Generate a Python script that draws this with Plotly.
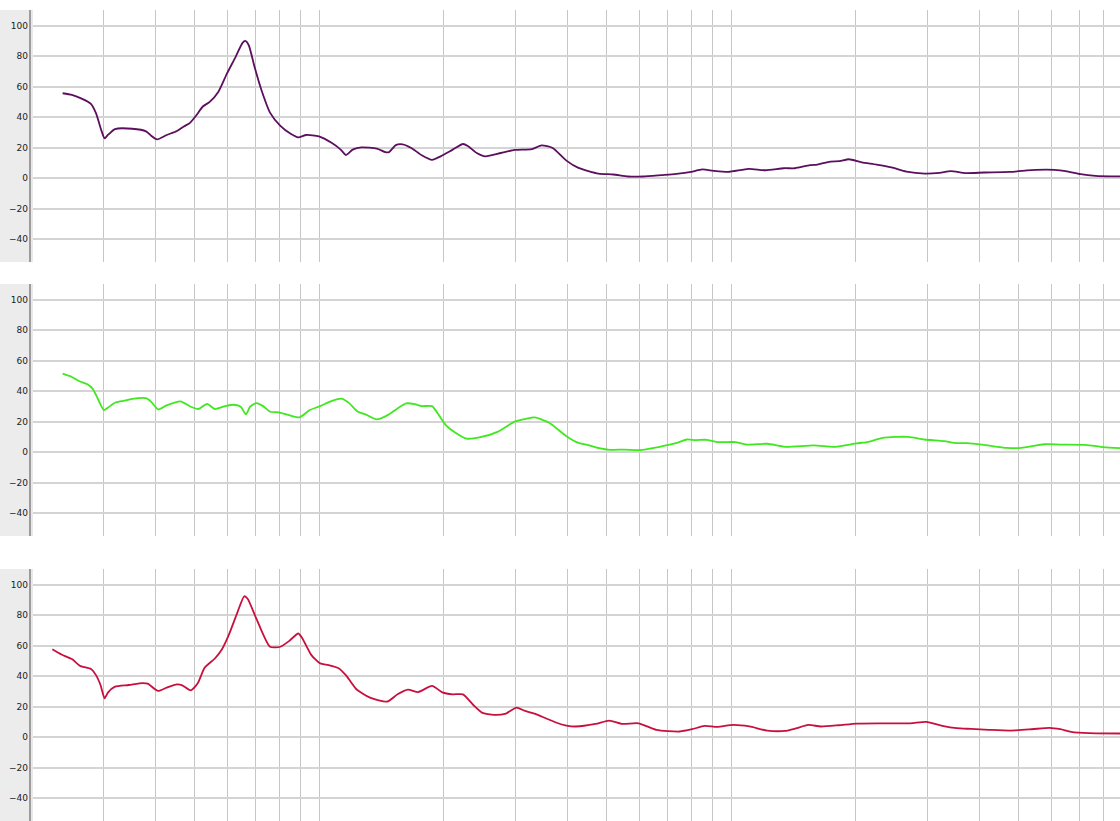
import plotly.graph_objects as go

# ---------------- data (frequency in Hz, level) ----------------
freq_a = [2.386, 2.513, 2.662, 2.795, 2.875, 2.960, 3.017, 3.077, 3.198, 3.521,
          3.803, 3.915, 4.044, 4.268, 4.521, 4.699, 4.855, 5.029, 5.224, 5.429,
          5.700, 5.981, 6.276, 6.522, 6.622, 6.753, 6.974, 7.248, 7.605, 8.059,
          8.536, 8.908, 9.310, 10.0, 10.75, 11.29, 11.62, 12.07, 12.68, 13.82,
          14.50, 14.78, 15.36, 15.96, 16.75, 17.76, 18.81, 19.73, 21.11, 22.36,
          23.02, 24.15, 25.34, 27.64, 29.85, 32.87, 34.70, 36.90, 39.86, 42.63,
          47.69, 51.81, 56.30, 61.14, 67.81, 73.70, 80.06, 85.18, 90.70, 98.49,
          110.4, 121.2, 134.4, 143.0, 155.4, 162.0, 174.2, 183.4, 193.2, 207.7,
          225.6, 245.2, 266.5, 295.4, 320.8, 341.6, 371.0, 411.5, 475.6, 550.0,
          610.1, 649.3, 705.2, 766.4, 882.2]
level_a = [55.7, 54.6, 52.0, 48.7, 42.6, 31.7, 26.1, 28.5, 32.2, 32.4,
           30.7, 27.8, 25.4, 28.3, 30.9, 33.9, 36.1, 40.9, 47.0, 50.0,
           56.7, 68.7, 79.6, 88.7, 90.0, 87.2, 73.0, 57.8, 43.0, 34.3,
           29.1, 26.7, 28.3, 27.4, 23.0, 18.7, 15.2, 18.7, 20.2, 19.3,
           17.0, 17.0, 21.7, 22.2, 19.8, 15.0, 12.0, 14.3, 18.7, 22.4,
           20.9, 16.5, 14.3, 16.5, 18.5, 19.1, 21.5, 19.8, 11.5, 6.7,
           3.0, 2.4, 1.1, 1.1, 2.0, 2.8, 4.1, 5.7, 4.8, 4.1,
           6.1, 5.2, 6.5, 6.5, 8.5, 8.9, 10.9, 11.1, 12.4, 10.4,
           8.9, 7.0, 4.3, 3.0, 3.5, 4.6, 3.3, 3.7, 4.1, 5.4,
           5.4, 4.6, 2.6, 1.5, 1.1]

freq_b = [2.386, 2.513, 2.612, 2.741, 2.821, 2.903, 3.005, 3.077, 3.198, 3.356,
          3.521, 3.803, 3.915, 4.069, 4.268, 4.608, 4.884, 5.097, 5.349, 5.588,
          5.921, 6.216, 6.457, 6.647, 6.806, 7.045, 7.317, 7.605, 7.983, 8.377,
          8.958, 9.493, 10.06, 10.75, 11.40, 11.85, 12.43, 12.92, 13.82, 14.64,
          15.51, 16.28, 17.08, 17.76, 18.81, 19.54, 20.31, 21.53, 22.80, 24.63,
          27.12, 29.85, 31.64, 33.38, 36.20, 39.86, 42.46, 45.10, 47.87, 50.82,
          55.06, 60.23, 64.61, 69.96, 74.29, 78.09, 82.09, 87.15, 92.58, 102.3,
          109.7, 122.4, 135.3, 158.8, 178.9, 201.8, 214.2, 232.1, 251.3, 269.6,
          294.9, 329.2, 353.0, 374.8, 414.2, 467.1, 506.0, 576.0, 630.2, 724.8,
          801.0, 881.2]
level_b = [51.5, 49.3, 46.7, 44.6, 41.7, 35.2, 27.6, 29.3, 32.4, 33.7,
           35.0, 35.4, 33.0, 28.0, 30.7, 33.3, 29.8, 28.3, 31.7, 28.3,
           30.2, 31.1, 29.8, 24.8, 29.8, 32.2, 30.2, 26.5, 26.1, 24.6,
           22.8, 27.6, 30.2, 33.7, 35.0, 32.0, 26.5, 25.0, 21.5, 24.1,
           28.7, 32.0, 31.5, 30.2, 30.2, 24.3, 17.8, 12.4, 8.9, 9.8,
           13.3, 20.0, 21.7, 22.8, 19.3, 10.5, 6.3, 4.6, 2.6, 1.5,
           1.7, 1.3, 2.6, 4.6, 6.3, 8.3, 7.9, 8.1, 6.6, 6.6,
           5.0, 5.5, 3.5, 4.4, 3.5, 5.7, 6.6, 9.2, 10.0, 10.0,
           8.3, 7.2, 5.9, 5.9, 4.6, 2.8, 2.8, 5.2, 5.0, 4.8,
           3.3, 2.6]

freq_c = [2.253, 2.372, 2.513, 2.637, 2.795, 2.875, 2.949, 3.017, 3.077, 3.198,
          3.454, 3.729, 3.839, 4.069, 4.268, 4.521, 4.656, 4.884, 5.077, 5.276,
          5.588, 5.809, 6.038, 6.336, 6.583, 6.710, 7.045, 7.605, 8.059, 8.456,
          8.908, 9.135, 9.585, 10.06, 10.55, 11.18, 11.62, 12.31, 13.30, 14.64,
          15.51, 16.44, 17.41, 18.81, 19.92, 21.11, 22.36, 23.69, 24.85, 26.60,
          28.43, 30.14, 31.62, 33.51, 35.50, 37.60, 39.86, 42.03, 46.93, 50.62,
          54.51, 59.62, 65.91, 75.02, 80.46, 86.30, 92.58, 101.3, 110.8, 122.4,
          135.3, 143.6, 154.0, 165.2, 182.5, 201.8, 232.1, 272.3, 297.9, 325.9,
          353.0, 382.4, 422.7, 476.4, 537.2, 593.5, 630.2, 669.2, 739.6, 881.2]
level_c = [57.7, 54.2, 51.2, 46.6, 44.7, 40.7, 34.2, 25.5, 29.4, 33.1,
           34.2, 35.5, 35.1, 30.3, 32.5, 34.6, 34.0, 30.7, 35.3, 45.5,
           51.6, 57.5, 66.9, 81.7, 92.4, 90.8, 77.8, 59.3, 59.3, 63.0,
           68.0, 64.3, 53.8, 48.4, 47.3, 45.1, 40.7, 31.6, 25.9, 23.3,
           28.1, 31.2, 29.6, 33.6, 29.4, 28.1, 28.1, 21.1, 16.1, 14.6,
           15.5, 19.4, 17.2, 15.3, 12.4, 9.6, 7.6, 7.0, 8.7, 10.9,
           8.7, 9.1, 4.8, 3.7, 5.2, 7.4, 6.7, 8.0, 7.0, 4.3,
           4.1, 5.7, 8.0, 7.0, 7.8, 8.9, 9.1, 9.1, 10.0, 7.4,
           5.9, 5.4, 4.8, 4.3, 5.2, 6.1, 5.2, 3.5, 2.6, 2.4]

series = [(freq_a, level_a, "#5b0f5e"),
          (freq_b, level_b, "#3fe81f"),
          (freq_c, level_c, "#c8103e")]

grid_freqs = [3, 4, 5, 6, 7, 8, 9, 10, 20, 30, 40, 50, 60, 70, 80, 90,
              100, 200, 300, 400, 500, 600, 700, 800, 900]
y_ticks = [-40, -20, 0, 20, 40, 60, 80, 100]

# ---------------- figure ----------------
W, H = 1120, 821
x0 = 33 / W
panels_px = [(10, 262), (284, 536), (569, 821)]
domains = [[1 - b / H, 1 - t / H] for t, b in panels_px]

fig = go.Figure()
shapes = []
for i, ((fx, ly, col), dom) in enumerate(zip(series, domains)):
    n = "" if i == 0 else str(i + 1)
    fig.add_trace(go.Scatter(x=fx, y=ly, mode="lines",
                             line=dict(color=col, width=1.8, shape="spline", smoothing=0.6),
                             xaxis="x" + n, yaxis="y" + n, showlegend=False,
                             hoverinfo="skip"))
    fig.layout["xaxis" + n] = dict(
        type="log", domain=[x0, 1], range=[0.3058, 2.9442],
        tickvals=grid_freqs, showticklabels=False, ticks="",
        showgrid=True, gridcolor="#c6c6c6", gridwidth=1,
        zeroline=False, showline=False, anchor="y" + n, fixedrange=True)
    fig.layout["yaxis" + n] = dict(
        domain=dom, range=[-55, 110.3], tickvals=y_ticks,
        ticks="", ticklabelstandoff=4,
        tickfont=dict(family="DejaVu Sans", size=9, color="#222222"),
        showgrid=True, gridcolor="#d4d4d4", gridwidth=1.5,
        zeroline=False, showline=False, anchor="x" + n, fixedrange=True)
    # left gray strip + border
    shapes.append(dict(type="rect", xref="paper", yref="paper",
                       x0=0, x1=29 / W, y0=dom[0], y1=dom[1],
                       fillcolor="#ececec", line=dict(width=0), layer="below"))
    shapes.append(dict(type="line", xref="paper", yref="paper",
                       x0=30 / W, x1=30 / W, y0=dom[0], y1=dom[1],
                       line=dict(color="#9c9c9c", width=2)))
    shapes.append(dict(type="line", xref="paper", yref="paper",
                       x0=32 / W, x1=32 / W, y0=dom[0], y1=dom[1],
                       line=dict(color="#d2d2d2", width=1)))

fig.update_layout(width=W, height=H, margin=dict(l=0, r=0, t=0, b=0),
                  paper_bgcolor="white", plot_bgcolor="white", shapes=shapes)

fig.write_html("out.html", config={"displayModeBar": False},
               post_script="document.body.style.margin='0';"
                           "document.body.style.overflow='hidden';")
